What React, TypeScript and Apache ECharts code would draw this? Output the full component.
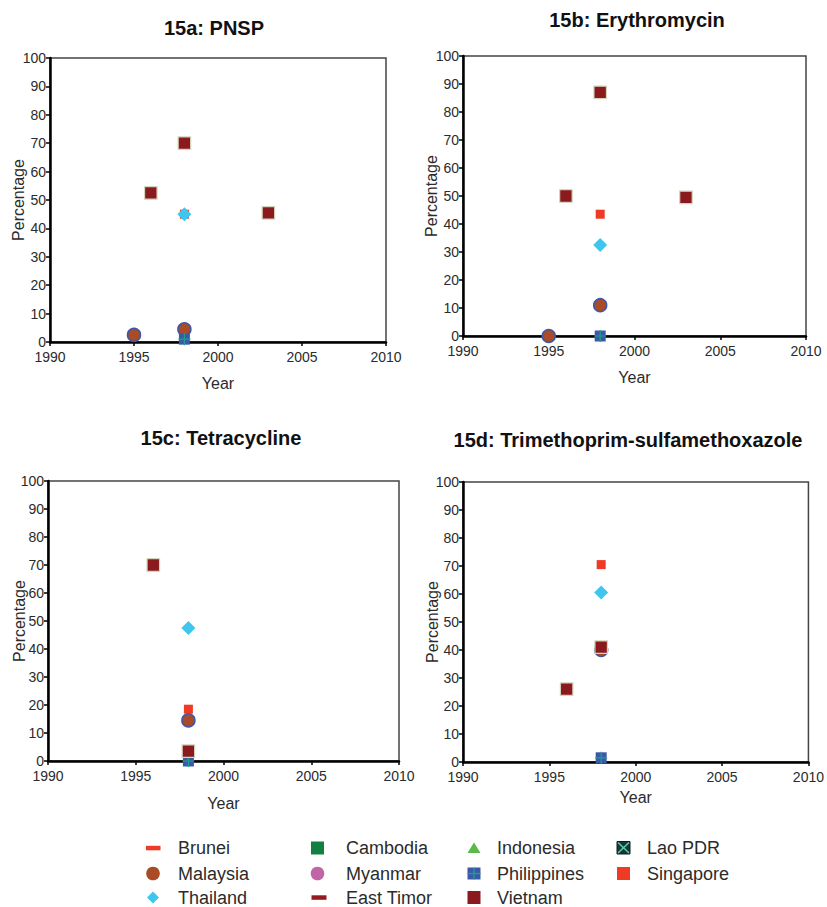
import React, { useEffect, useRef } from "react";
import * as echarts from "echarts";

// Axis ticks
const yearTicks = [1990, 1995, 2000, 2005, 2010];
const percentTicks = [0, 10, 20, 30, 40, 50, 60, 70, 80, 90, 100];

const panelTitles = [
  "15a: PNSP",
  "15b: Erythromycin",
  "15c: Tetracycline",
  "15d: Trimethoprim-sulfamethoxazole",
];

// Resistance rates, [year, percentage]
// 15a: PNSP
const pnspVietnam = [[1996, 52.5], [1998, 70], [2003, 45.5]];
const pnspSingapore = [[1998, 45]];
const pnspThailand = [[1998, 45]];
const pnspMalaysia = [[1995, 2.5], [1998, 4.5]];
const pnspPhilippines = [[1998, 1]];

// 15b: Erythromycin
const eryVietnam = [[1996, 50], [1998, 87], [2003, 49.5]];
const erySingapore = [[1998, 43.5]];
const eryThailand = [[1998, 32.5]];
const eryMalaysia = [[1995, 0], [1998, 11]];
const eryPhilippines = [[1998, 0]];

// 15c: Tetracycline
const tetVietnam = [[1996, 70], [1998, 3.5]];
const tetSingapore = [[1998, 18.5]];
const tetThailand = [[1998, 47.5]];
const tetMalaysia = [[1998, 14.5]];
const tetPhilippines = [[1998, 0]];

// 15d: Trimethoprim-sulfamethoxazole
const tmpVietnam = [[1996, 26], [1998, 41]];
const tmpSingapore = [[1998, 70.5]];
const tmpThailand = [[1998, 60.5]];
const tmpMalaysia = [[1998, 40]];
const tmpPhilippines = [[1998, 1.5]];

const panelData: Record<string, number[][]>[] = [
  { Singapore: pnspSingapore, Malaysia: pnspMalaysia, Philippines: pnspPhilippines, Thailand: pnspThailand, Vietnam: pnspVietnam },
  { Singapore: erySingapore, Malaysia: eryMalaysia, Philippines: eryPhilippines, Thailand: eryThailand, Vietnam: eryVietnam },
  { Singapore: tetSingapore, Malaysia: tetMalaysia, Philippines: tetPhilippines, Thailand: tetThailand, Vietnam: tetVietnam },
  { Singapore: tmpSingapore, Malaysia: tmpMalaysia, Philippines: tmpPhilippines, Thailand: tmpThailand, Vietnam: tmpVietnam },
];

const legendRows = [
  ["Brunei", "Cambodia", "Indonesia", "Lao PDR"],
  ["Malaysia", "Myanmar", "Philippines", "Singapore"],
  ["Thailand", "East Timor", "Vietnam"],
];

const FONT = '"Liberation Sans", Arial, Helvetica, sans-serif';
const TEXT = "#2b2b2b";

const COLORS: Record<string, string> = {
  Brunei: "#ee3a26",
  Cambodia: "#138043",
  Indonesia: "#5bb947",
  "Lao PDR": "#173b2b",
  Malaysia: "#a84b26",
  Myanmar: "#c464a8",
  Philippines: "#3b59a8",
  Singapore: "#ef3a26",
  Thailand: "#3fc6ee",
  "East Timor": "#941c20",
  Vietnam: "#8b1a1e",
};
const TEAL = "#1fa08c";

// Plot rectangles of the four panels
const grids = [
  { left: 50, top: 58, width: 336, height: 284 },
  { left: 463, top: 56, width: 343, height: 280 },
  { left: 48, top: 481, width: 351, height: 280 },
  { left: 463, top: 482, width: 355, height: 280 },
];
const titlePos = [
  [214, 28],
  [637, 20],
  [221, 438],
  [628, 440],
];
const xNameGap = [33, 33, 34, 27];
const yNameGap = [24, 24, 21, 23];

const markerStyle: Record<string, any> = {
  Singapore: { symbol: "rect", symbolSize: 9, itemStyle: { color: COLORS.Singapore, opacity: 1 }, z: 2 },
  Malaysia: {
    symbol: "circle",
    symbolSize: 13,
    itemStyle: { color: COLORS.Malaysia, borderColor: "#3f57a8", borderWidth: 1.5, opacity: 1 },
    z: 3,
  },
  Philippines: { symbol: "rect", symbolSize: 11, itemStyle: { color: COLORS.Philippines, opacity: 1 }, z: 4 },
  Thailand: { symbol: "diamond", symbolSize: 14, itemStyle: { color: COLORS.Thailand, opacity: 1 }, z: 6 },
  Vietnam: {
    symbol: "rect",
    symbolSize: 12.5,
    itemStyle: { color: COLORS.Vietnam, borderColor: "#d3d6bc", borderWidth: 1.2, opacity: 1 },
    z: 7,
  },
};

const PLUS = "path://M5.4,0H6.6V5.4H12V6.6H6.6V12H5.4V6.6H0V5.4H5.4Z";

function buildOption() {
  const series: any[] = [];
  panelData.forEach((panel, i) => {
    Object.keys(panel).forEach((country) => {
      series.push({
        type: "scatter",
        name: country,
        xAxisIndex: i,
        yAxisIndex: i,
        data: panel[country],
        clip: false,
        ...markerStyle[country],
      });
      if (country === "Philippines") {
        series.push({
          type: "scatter",
          name: country,
          xAxisIndex: i,
          yAxisIndex: i,
          data: panel[country],
          clip: false,
          silent: true,
          symbol: PLUS,
          symbolSize: 12,
          itemStyle: { color: TEAL, opacity: 1 },
          z: 5,
        });
      }
    });
  });

  const xAxis = grids.map((_, i) => ({
    type: "value",
    gridIndex: i,
    min: yearTicks[0],
    max: yearTicks[yearTicks.length - 1],
    interval: yearTicks[1] - yearTicks[0],
    name: "Year",
    nameLocation: "middle",
    nameGap: xNameGap[i],
    nameMoveOverlap: false,
    nameTextStyle: { fontSize: 16, color: TEXT, fontFamily: FONT },
    axisLine: { show: true, onZero: false, lineStyle: { color: "#000", width: 2.5 } },
    axisTick: { show: true, length: 4, lineStyle: { color: "#000", width: 1.5 } },
    axisLabel: {
      fontSize: 14,
      color: TEXT,
      margin: 8,
      fontFamily: FONT,
      formatter: (v: number) => String(v),
    },
    splitLine: { show: false },
  }));

  const yAxis = grids.map((_, i) => ({
    type: "value",
    gridIndex: i,
    min: percentTicks[0],
    max: percentTicks[percentTicks.length - 1],
    interval: percentTicks[1] - percentTicks[0],
    name: "Percentage",
    nameLocation: "middle",
    nameGap: yNameGap[i],
    nameMoveOverlap: false,
    nameTextStyle: { fontSize: 16, color: TEXT, fontFamily: FONT },
    axisLine: { show: true, onZero: false, lineStyle: { color: "#000", width: 2.5 } },
    axisTick: { show: true, length: 4, lineStyle: { color: "#000", width: 1.5 } },
    axisLabel: { fontSize: 14, color: TEXT, margin: 4, fontFamily: FONT },
    splitLine: { show: false },
  }));

  const graphic: any[] = [];
  panelTitles.forEach((t, i) => {
    graphic.push({
      type: "text",
      x: titlePos[i][0],
      y: titlePos[i][1],
      style: {
        text: t,
        align: "center",
        verticalAlign: "middle",
        fontSize: 20,
        fontWeight: "bold",
        fontFamily: FONT,
        fill: "#111",
      },
    });
  });

  // Legend: four columns, three rows
  const colMarker = [153, 317.5, 474, 623.5];
  const colText = [178, 346, 497, 647];
  const rowY = [848, 873.5, 897.5];
  const marker = (name: string, cx: number, cy: number): any[] => {
    const c = COLORS[name];
    switch (name) {
      case "Brunei":
        return [{ type: "rect", shape: { x: cx - 7, y: cy - 2.2, width: 14.5, height: 4.5 }, style: { fill: c } }];
      case "East Timor":
        return [{ type: "rect", shape: { x: cx - 6, y: cy - 2.2, width: 15, height: 4.5 }, style: { fill: c } }];
      case "Malaysia":
      case "Myanmar":
        return [{ type: "circle", shape: { cx, cy, r: 6.8 }, style: { fill: c } }];
      case "Thailand":
        return [
          {
            type: "polygon",
            shape: { points: [[cx, cy - 6], [cx + 6, cy], [cx, cy + 6], [cx - 6, cy]] },
            style: { fill: c },
          },
        ];
      case "Indonesia":
        return [
          {
            type: "polygon",
            shape: { points: [[cx, cy - 5.5], [cx + 6.5, cy + 5], [cx - 6.5, cy + 5]] },
            style: { fill: c },
          },
        ];
      case "Philippines":
        return [
          { type: "rect", shape: { x: cx - 6.5, y: cy - 6, width: 13, height: 12 }, style: { fill: c } },
          { type: "line", shape: { x1: cx, y1: cy - 6, x2: cx, y2: cy + 6 }, style: { stroke: TEAL, lineWidth: 1.3 } },
          { type: "line", shape: { x1: cx - 6.5, y1: cy, x2: cx + 6.5, y2: cy }, style: { stroke: TEAL, lineWidth: 1.3 } },
        ];
      case "Lao PDR":
        return [
          {
            type: "rect",
            shape: { x: cx - 6.5, y: cy - 6.5, width: 13, height: 12.5 },
            style: { fill: c, stroke: "#0e2419", lineWidth: 1 },
          },
          { type: "line", shape: { x1: cx - 5.5, y1: cy - 5.5, x2: cx + 5.5, y2: cy + 5 }, style: { stroke: "#5fc9c4", lineWidth: 1.5 } },
          { type: "line", shape: { x1: cx + 5.5, y1: cy - 5.5, x2: cx - 5.5, y2: cy + 5 }, style: { stroke: "#5fc9c4", lineWidth: 1.5 } },
        ];
      default:
        return [{ type: "rect", shape: { x: cx - 6.5, y: cy - 6.5, width: 13, height: 13 }, style: { fill: c } }];
    }
  };
  legendRows.forEach((row, r) => {
    row.forEach((name, col) => {
      marker(name, colMarker[col], rowY[r]).forEach((m) => graphic.push({ ...m, silent: true }));
      graphic.push({
        type: "text",
        x: colText[col],
        y: rowY[r],
        style: {
          text: name,
          align: "left",
          verticalAlign: "middle",
          fontSize: 18,
          fontFamily: FONT,
          fill: TEXT,
        },
      });
    });
  });

  return {
    animation: false,
    backgroundColor: "#ffffff",
    textStyle: { fontFamily: FONT },
    grid: grids.map((g) => ({
      ...g,
      show: true,
      borderColor: "#444",
      borderWidth: 1.5,
      backgroundColor: "transparent",
    })),
    xAxis,
    yAxis,
    series,
    graphic,
  };
}

export default function App() {
  const ref = useRef<HTMLDivElement>(null);
  useEffect(() => {
    if (!ref.current) return;
    const chart = echarts.init(ref.current, null, { renderer: "svg" });
    chart.setOption(buildOption() as any);
    return () => chart.dispose();
  }, []);
  return (
    <div
      ref={ref}
      style={{ position: "fixed", left: 0, top: 0, width: 827, height: 907, background: "#fff" }}
    />
  );
}
